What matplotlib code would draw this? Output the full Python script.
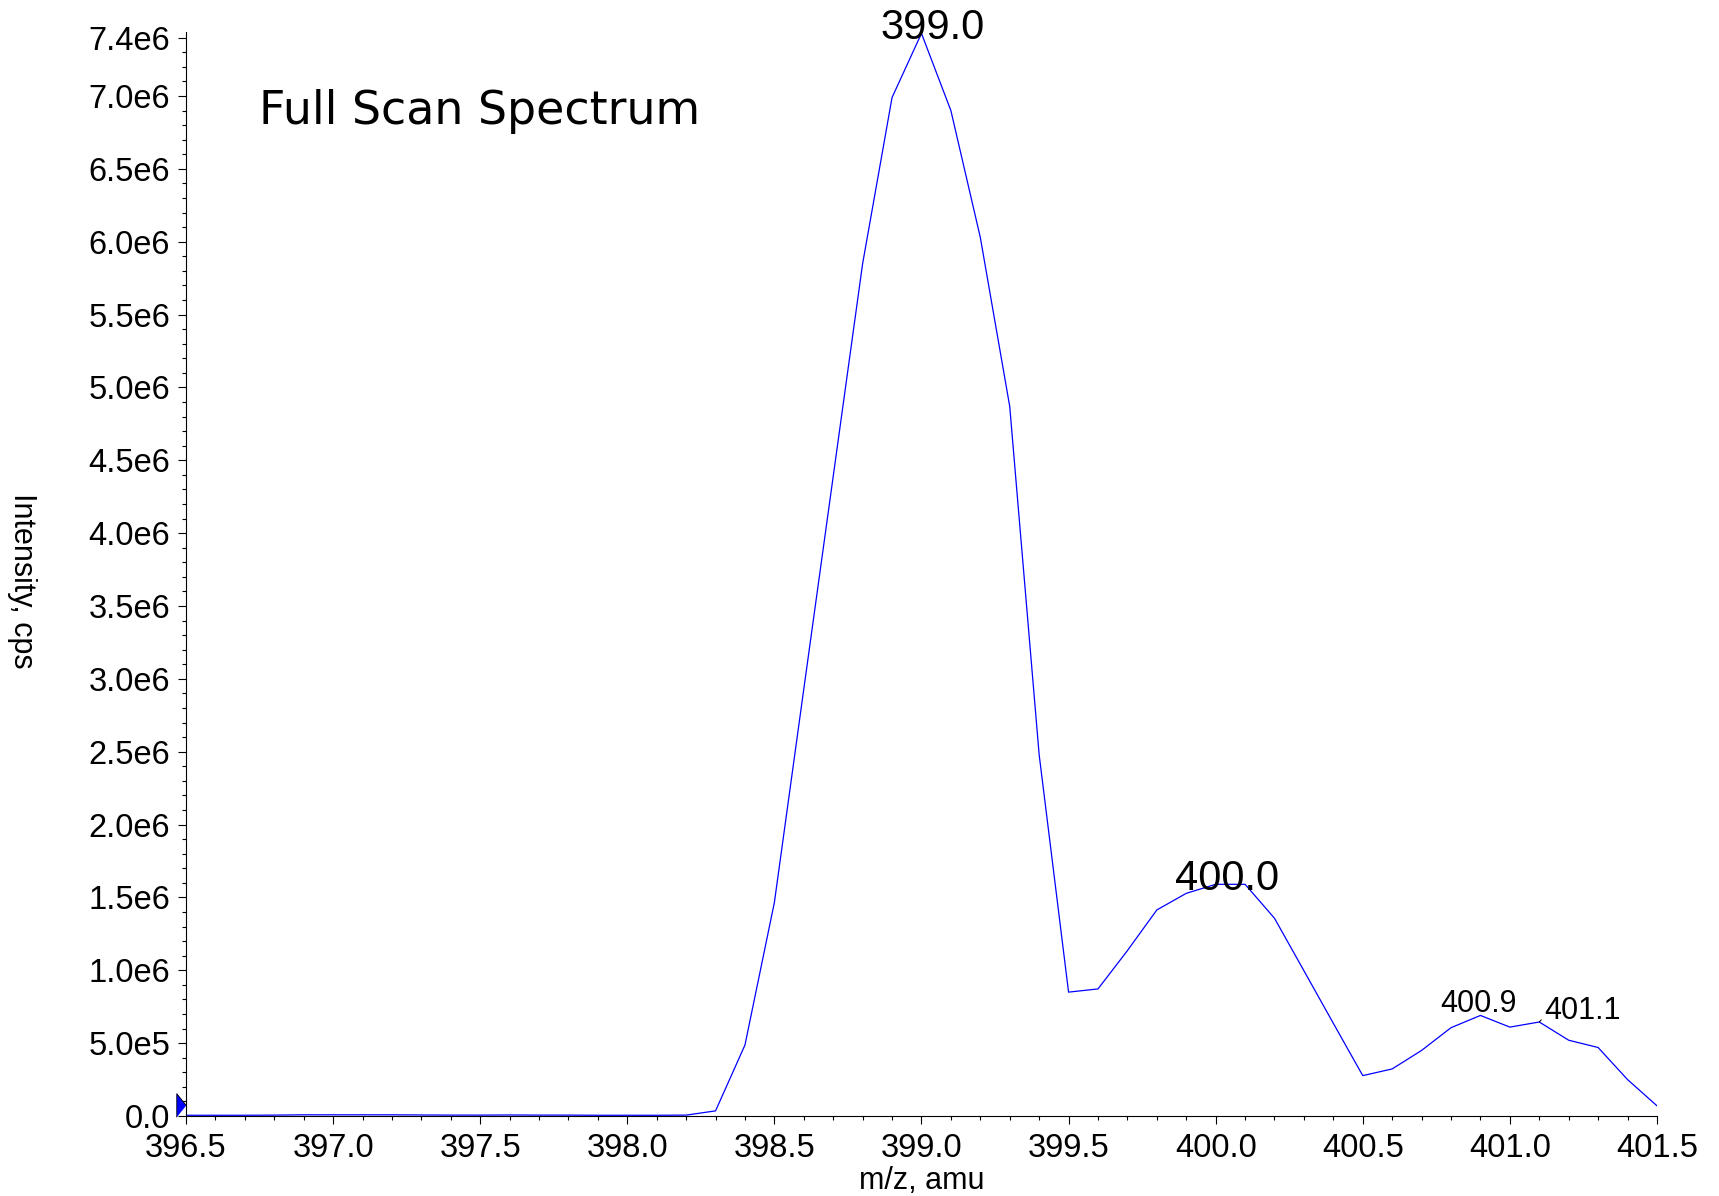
import numpy as np
import matplotlib
matplotlib.use('Agg')
import matplotlib.pyplot as plt

plt.rcParams['font.family'] = ['Liberation Sans', 'DejaVu Sans']

# spectrum sampled every 0.1 amu
mz = np.round(np.arange(396.5, 401.55, 0.1), 1)
intensity_M = [0.005, 0.005, 0.005, 0.006, 0.008, 0.008, 0.008, 0.008, 0.007, 0.006,
               0.006, 0.007, 0.006, 0.006, 0.005, 0.005, 0.005, 0.006, 0.035, 0.487,
               1.465, 2.93, 4.39, 5.85, 6.99, 7.43, 6.90, 6.03, 4.87, 2.48,
               0.85, 0.872, 1.135, 1.414, 1.528, 1.59, 1.59, 1.357, 0.997, 0.636,
               0.277, 0.323, 0.45, 0.606, 0.69, 0.61, 0.645, 0.52, 0.47, 0.25,
               0.07]
intensity = np.array(intensity_M) * 1e6

# labelled peaks: (m/z, font size, offset in points)
peaks = [(399.0, 30, (8, 4)), (400.0, 30, (8.5, 4)),
         (400.9, 22, (-1.4, 8.5)), (401.1, 22, (31, 8))]

yticks = [0, 0.5e6, 1.0e6, 1.5e6, 2.0e6, 2.5e6, 3.0e6, 3.5e6, 4.0e6, 4.5e6,
          5.0e6, 5.5e6, 6.0e6, 6.5e6, 7.0e6, 7.4e6]
ytick_labels = ['0.0', '5.0e5', '1.0e6', '1.5e6', '2.0e6', '2.5e6', '3.0e6', '3.5e6',
                '4.0e6', '4.5e6', '5.0e6', '5.5e6', '6.0e6', '6.5e6', '7.0e6', '7.4e6']
xticks = [396.5, 397.0, 397.5, 398.0, 398.5, 399.0, 399.5, 400.0, 400.5, 401.0, 401.5]

fig = plt.figure(figsize=(17.19, 11.96), dpi=100)
ax = fig.add_axes([0.1082, 0.0669, 0.8557, 0.9064])

ax.plot(mz, intensity, color='#0000ff', lw=0.9)

for m, fs, off in peaks:
    i = int(np.argmin(np.abs(mz - m)))
    kw = {}
    if m == 401.1:
        kw['arrowprops'] = dict(arrowstyle='-', color='black', lw=0.7,
                                shrinkA=0, shrinkB=0, relpos=(0.0, 0.3))
    ax.annotate('%.1f' % m, xy=(mz[i], intensity[i]), xytext=off,
                textcoords='offset points', ha='center', va='center',
                fontsize=fs, annotation_clip=False, **kw)

ax.set_xlim(396.5, 401.5)
ax.set_ylim(0, 7.44e6)
ax.set_xticks(xticks, ['%.1f' % t for t in xticks])
ax.set_xticks(np.round(np.arange(396.5, 401.55, 0.1), 1), minor=True)
ax.set_yticks(yticks, ytick_labels)
ax.set_yticks(np.arange(0, 7.45e6, 0.1e6), minor=True)

for s in ['top', 'right']:
    ax.spines[s].set_visible(False)
for s in ['left', 'bottom']:
    ax.spines[s].set_linewidth(0.8)

ax.tick_params(axis='both', which='major', labelsize=23.5, length=6, width=0.8)
ax.tick_params(axis='both', which='minor', length=3, width=0.8)
ax.tick_params(axis='y', pad=5.5)
ax.tick_params(axis='x', pad=6)

ax.set_xlabel('m/z, amu', fontsize=22, va='center')
ax.xaxis.set_label_coords(0.5, -0.06)
ax.set_ylabel('Intensity, cps', fontsize=22, rotation=270, va='center')
ax.yaxis.set_label_coords(-0.1115, 0.4935)

# threshold marker on the intensity axis
ax.plot([-0.0034], [0.075e6], transform=ax.get_yaxis_transform(),
        marker=[(-0.4, -1), (-0.4, 1), (0.4, 0)], markersize=17,
        markerfacecolor='#0000ff', markeredgecolor='black', markeredgewidth=0.6,
        linestyle='none', clip_on=False)

ax.text(0.0496, 0.9155, 'Full Scan Spectrum', transform=ax.transAxes,
        fontsize=33, family='DejaVu Sans', ha='left', va='baseline')

fig.savefig('out.png', dpi=100)
